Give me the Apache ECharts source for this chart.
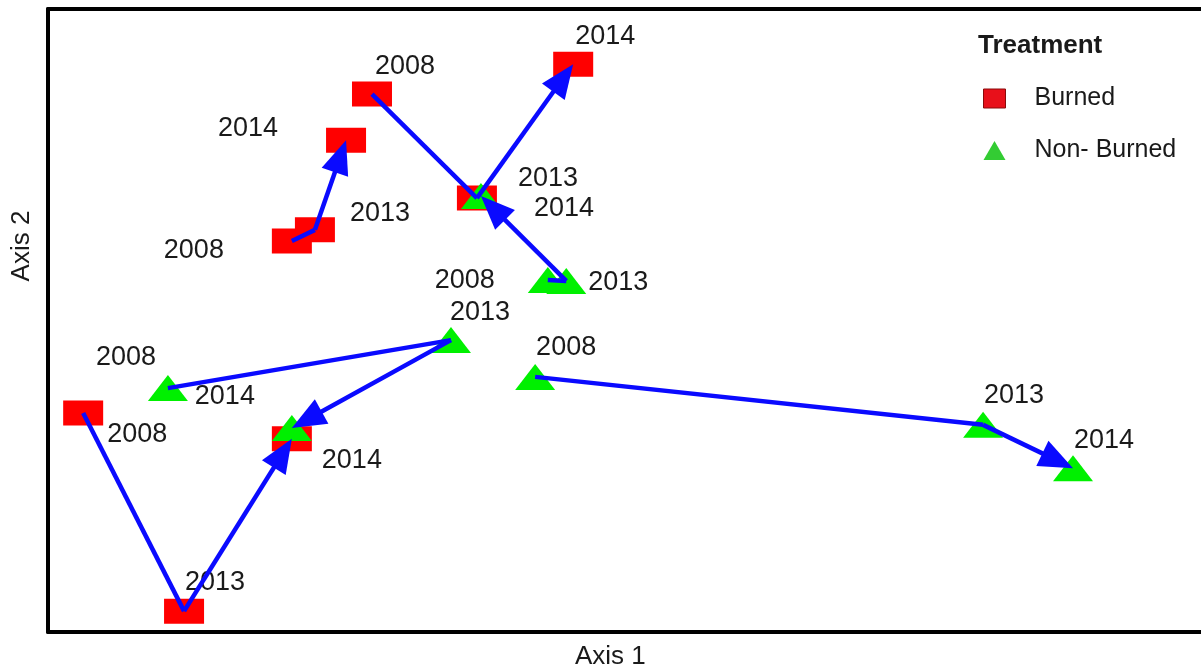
<!DOCTYPE html>
<html>
<head>
<meta charset="utf-8">
<title>Treatment trajectories</title>
<script src="https://cdn.jsdelivr.net/npm/echarts@6/dist/echarts.min.js"></script>
<style>
  html, body { margin: 0; padding: 0; background: #fff; }
  #chart { width: 1201px; height: 670px; }
</style>
</head>
<body>
<div id="chart"></div>
<script>
(function (echarts) {
  "use strict";

  var years = ['2008', '2013', '2014'];

  // ordination scores, one row per site trajectory (2008 -> 2013 -> 2014)
  var burnedAxis1 = [
    [-0.577, -0.537, -0.483],
    [-0.438, -0.256, -0.089],
    [-0.939, -0.764, -0.577]
  ];
  var burnedAxis2 = [
    [0.255, 0.291, 0.579],
    [0.727, 0.393, 0.823],
    [-0.297, -0.933, -0.380]
  ];
  var nonBurnedAxis1 = [
    [-0.133, -0.101, -0.249],
    [-0.792, -0.301, -0.577],
    [-0.155, 0.622, 0.778]
  ];
  var nonBurnedAxis2 = [
    [0.130, 0.127, 0.400],
    [-0.217, -0.063, -0.345],
    [-0.181, -0.335, -0.474]
  ];

  // where each year label sits relative to its marker (px)
  var burnedLabelShift = [
    [[-98, 9], [65, -16], [-98, -12]],
    [[33, -27], [71, -20], [32, -28]],
    [[54, 22], [31, -29], [60, 22]]
  ];
  var nonBurnedLabelShift = [
    [[-83, 1], [52, 2], [83, 13]],
    [[-42, -31], [29, -28], [-67, -31]],
    [[31, -29], [31, -29], [31, -28]]
  ];

  var FONT = 'Liberation Sans, Arial, sans-serif'
    , RED = '#ff0000'
    , GREEN = '#00f000'
    , BLUE = '#0a0aff';

  function toPoints(xs, ys, shifts) {
    var out = [];
    xs.forEach(function (row, i) {
      row.forEach(function (x, j) {
        out.push({
          name: years[j],
          value: [x, ys[i][j]],
          label: { offset: shifts[i][j] }
        });
      });
    });
    return out;
  }

  // segments 2008->2013 (plain) and 2013->2014 (arrow head)
  function toSegments(xs, ys) {
    var out = [];
    xs.forEach(function (row, i) {
      for (var j = 0; j < row.length - 1; j++) {
        out.push([row[j], ys[i][j], row[j + 1], ys[i][j + 1], j === row.length - 2 ? 1 : 0]);
      }
    });
    return out;
  }

  function renderArrow(params, api) {
    var p0 = api.coord([api.value(0), api.value(1)])
      , p1 = api.coord([api.value(2), api.value(3)])
      , dx = p1[0] - p0[0]
      , dy = p1[1] - p0[1]
      , len = Math.sqrt(dx * dx + dy * dy) || 1
      , ux = dx / len
      , uy = dy / len
      , headLen = 34
      , headHalf = 14
      , end = p1
      , children = [];

    if (api.value(4)) {
      var bx = p1[0] - ux * headLen
        , by = p1[1] - uy * headLen;
      end = [p1[0] - ux * (headLen - 4), p1[1] - uy * (headLen - 4)];
      children.push({
        type: 'polygon',
        shape: { points: [p1, [bx - uy * headHalf, by + ux * headHalf], [bx + uy * headHalf, by - ux * headHalf]] },
        style: { fill: BLUE }
      });
    }
    children.unshift({
      type: 'line',
      shape: { x1: p0[0], y1: p0[1], x2: end[0], y2: end[1] },
      style: { stroke: BLUE, lineWidth: 4.5 }
    });
    return { type: 'group', children: children };
  }

  var labelStyle = {
    show: true,
    position: 'inside',
    formatter: '{b}',
    color: '#1a1a1a',
    fontSize: 27,
    fontFamily: FONT,
    align: 'center',
    verticalAlign: 'middle',
    padding: [4, 0, 0, 0]
  };

  var frameLine = { show: true, onZero: false, lineStyle: { color: '#000', width: 4 } };
  var hiddenAxis = {
    type: 'value',
    min: -1,
    max: 1,
    axisTick: { show: false },
    axisLabel: { show: false },
    splitLine: { show: false }
  };

  var chart = echarts.init(document.getElementById('chart'));

  chart.setOption({
    animation: false,
    backgroundColor: '#fff',
    textStyle: { fontFamily: FONT },
    title: {
      text: 'Treatment',
      left: 973,
      top: 28,
      textStyle: { fontSize: 26, fontWeight: 'bold', color: '#1a1a1a', fontFamily: FONT }
    },
    legend: {
      orient: 'vertical',
      left: 978,
      top: 81,
      itemWidth: 22,
      itemHeight: 19,
      itemGap: 27,
      textStyle: { fontSize: 25, color: '#1a1a1a', fontFamily: FONT, padding: [0, 0, 0, 24] },
      data: [
        { name: 'Burned', icon: 'rect', itemStyle: { color: '#e8101a', borderColor: '#8a0a0a', borderWidth: 1 } },
        { name: 'Non- Burned', icon: 'triangle', itemStyle: { color: '#33cc33' } }
      ]
    },
    grid: {
      left: 48,
      right: 0,
      top: 9,
      bottom: 38
    },
    xAxis: [
      Object.assign({ position: 'bottom', axisLine: frameLine }, hiddenAxis),
      Object.assign({ position: 'top', axisLine: frameLine }, hiddenAxis)
    ],
    yAxis: Object.assign({ position: 'left', axisLine: frameLine }, hiddenAxis),
    graphic: [
      {
        type: 'text',
        left: 575,
        top: 644,
        style: { text: 'Axis 1', fontSize: 26, fill: '#1a1a1a', fontFamily: FONT }
      },
      {
        type: 'text',
        x: 22,
        y: 246,
        rotation: Math.PI / 2,
        style: {
          text: 'Axis 2', fontSize: 26, fill: '#1a1a1a', fontFamily: FONT,
          align: 'center', verticalAlign: 'middle'
        }
      }
    ],
    series: [
      {
        name: 'Burned',
        type: 'scatter',
        symbol: 'rect',
        symbolSize: [40, 25],
        itemStyle: { color: RED, opacity: 1 },
        label: labelStyle,
        z: 2,
        data: toPoints(burnedAxis1, burnedAxis2, burnedLabelShift)
      },
      {
        name: 'Non- Burned',
        type: 'scatter',
        symbol: 'triangle',
        symbolSize: [40, 26],
        itemStyle: { color: GREEN, opacity: 1 },
        label: labelStyle,
        z: 3,
        data: toPoints(nonBurnedAxis1, nonBurnedAxis2, nonBurnedLabelShift)
      },
      {
        name: 'trajectory',
        type: 'custom',
        renderItem: renderArrow,
        encode: { x: [0, 2], y: [1, 3] },
        silent: true,
        z: 4,
        data: toSegments(burnedAxis1, burnedAxis2).concat(toSegments(nonBurnedAxis1, nonBurnedAxis2))
      }
    ]
  });
})(echarts);
</script>
</body>
</html>
